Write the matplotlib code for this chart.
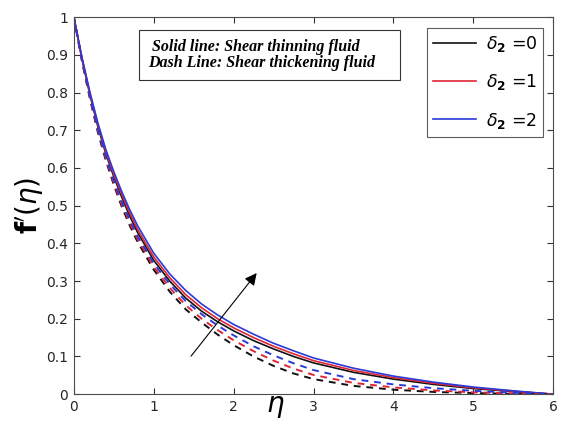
import matplotlib
matplotlib.use("Agg")
import matplotlib.pyplot as plt

# eta grid and f'(eta)
eta = [0, 0.1, 0.2, 0.3, 0.4, 0.5, 0.6, 0.7, 0.8, 1.0, 1.2, 1.4, 1.6, 1.8,
       2.0, 2.25, 2.5, 2.75, 3.0, 3.5, 4.0, 4.5, 5.0, 5.5, 6.0]

# solid lines: shear thinning
thin_d0 = [1, 0.89, 0.795, 0.71, 0.638, 0.577, 0.522, 0.472, 0.428, 0.355, 0.300, 0.255, 0.220, 0.192,
           0.168, 0.142, 0.120, 0.100, 0.083, 0.058, 0.040, 0.026, 0.015, 0.007, 0]
thin_d1 = [1, 0.892, 0.798, 0.715, 0.643, 0.583, 0.529, 0.480, 0.436, 0.364, 0.309, 0.264, 0.229, 0.200,
           0.176, 0.150, 0.127, 0.107, 0.089, 0.063, 0.044, 0.029, 0.017, 0.008, 0]
thin_d2 = [1, 0.895, 0.802, 0.720, 0.649, 0.590, 0.537, 0.489, 0.446, 0.374, 0.319, 0.275, 0.239, 0.210,
           0.185, 0.159, 0.135, 0.115, 0.096, 0.069, 0.048, 0.032, 0.019, 0.009, 0]

# dashed lines: shear thickening
thick_d0 = [1, 0.885, 0.785, 0.695, 0.620, 0.555, 0.497, 0.447, 0.403, 0.330, 0.272, 0.225, 0.190, 0.158,
            0.130, 0.100, 0.075, 0.055, 0.040, 0.022, 0.012, 0.006, 0.003, 0.001, 0]
thick_d1 = [1, 0.887, 0.788, 0.700, 0.625, 0.560, 0.503, 0.454, 0.410, 0.338, 0.282, 0.236, 0.200, 0.170,
            0.143, 0.114, 0.089, 0.068, 0.051, 0.030, 0.018, 0.010, 0.005, 0.002, 0]
thick_d2 = [1, 0.890, 0.792, 0.705, 0.630, 0.566, 0.510, 0.462, 0.418, 0.347, 0.292, 0.247, 0.212, 0.182,
            0.156, 0.127, 0.103, 0.082, 0.064, 0.040, 0.026, 0.016, 0.009, 0.004, 0]

labels = [r"$\delta_{\mathbf{2}}$ =0", r"$\delta_{\mathbf{2}}$ =1", r"$\delta_{\mathbf{2}}$ =2"]
colors = ["#111111", "#e02535", "#2a3ad8"]

fig = plt.figure(figsize=(5.68, 4.38), dpi=100)
ax = fig.add_axes([0.130, 0.100, 0.844, 0.861])

lines = []
for y, c, lab in zip([thin_d0, thin_d1, thin_d2], colors, labels):
    l, = ax.plot(eta, y, color=c, lw=1.2, label=lab)
    lines.append(l)
for y, c in zip([thick_d0, thick_d1, thick_d2], colors):
    ax.plot(eta, y, color=c, lw=1.4, ls=(0, (3.5, 3)))

ax.set_xlim(0, 6)
ax.set_ylim(0, 1)
ax.set_xticks(range(7))
ax.set_yticks([0, 0.1, 0.2, 0.3, 0.4, 0.5, 0.6, 0.7, 0.8, 0.9, 1])
ax.set_yticklabels(["0", "0.1", "0.2", "0.3", "0.4", "0.5", "0.6", "0.7", "0.8", "0.9", "1"])
ax.tick_params(direction="in", top=True, right=True, labelsize=10, length=4,
               colors="0.2", labelcolor="0.15", pad=4)
for s in ax.spines.values():
    s.set_color("0.3")
    s.set_linewidth(0.8)

ax.set_ylabel(r"$\mathbf{f'}(\eta)$", fontsize=20, labelpad=0)
ax.set_xlabel(r"$\eta$", fontsize=20)
ax.xaxis.set_label_coords(0.42, 0.005)

ax.annotate("", xy=(2.31, 0.327), xytext=(1.445, 0.095),
            arrowprops=dict(arrowstyle="-|>", color="black", lw=0.8,
                            mutation_scale=18))

ax.text(0.155, 0.899, " Solid line: Shear thinning fluid\nDash Line: Shear thickening fluid    ",
        transform=ax.transAxes, ha="left", va="center", fontsize=11.5,
        family="Liberation Serif", style="italic", weight="bold", linespacing=1.05,
        bbox=dict(boxstyle="square,pad=0.55", fc="white", ec="0.2", lw=0.8))

leg = ax.legend(handles=lines, loc="upper right", bbox_to_anchor=(0.979, 0.971),
                fontsize=12.5, frameon=True, fancybox=False, handlelength=2.5,
                borderpad=0.35, labelspacing=1.05, handletextpad=0.55, borderaxespad=0)
leg.get_frame().set_edgecolor("0.2")
leg.get_frame().set_linewidth(0.8)

fig.savefig("out.png", dpi=100)
